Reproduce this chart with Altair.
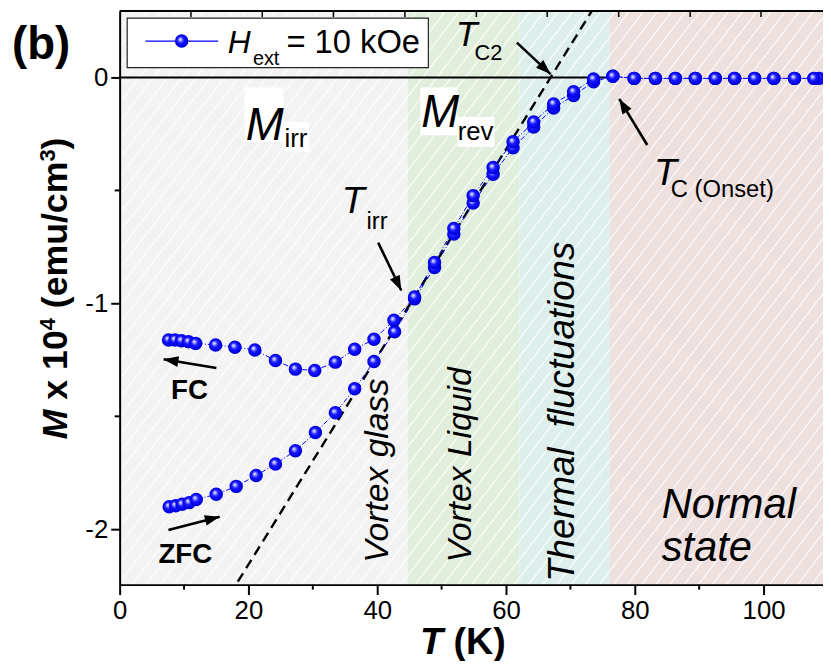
import math
import altair as alt
import pandas as pd

# ---------------- data ----------------
T_fc = [7.6, 8.6, 9.6, 10.7, 11.8, 14.9, 17.9, 21.0, 24.2, 27.3, 30.3, 33.5, 36.5, 39.5, 42.6,
        45.8, 48.9, 51.9, 54.9, 58.0, 61.1, 64.3, 67.4, 70.5, 73.6, 76.6, 79.9, 83.2, 86.3,
        89.4, 92.5, 95.5, 98.6, 101.6, 104.8, 107.8]
M_fc = [-1.162, -1.162, -1.165, -1.170, -1.177, -1.184, -1.194, -1.206, -1.253, -1.291, -1.297,
        -1.260, -1.203, -1.159, -1.075, -0.972, -0.819, -0.669, -0.523, -0.399, -0.285, -0.197,
        -0.117, -0.063, -0.007, 0.005, -0.004, -0.004, -0.004, -0.004, -0.004, -0.004, -0.004,
        -0.004, -0.004, -0.004]
T_zfc = [7.7, 8.7, 9.7, 10.8, 11.9, 15.0, 18.1, 21.2, 24.2, 27.3, 30.4, 33.5, 36.5, 39.5, 42.7,
         45.8, 48.9, 51.9, 54.9, 58.0, 61.1, 64.3, 67.4, 70.5, 73.6, 76.6, 79.9, 83.2, 86.3,
         89.4, 92.5, 95.5, 98.6, 101.6, 104.8, 108.6]
M_zfc = [-1.900, -1.896, -1.889, -1.882, -1.868, -1.845, -1.810, -1.762, -1.711, -1.652, -1.572,
         -1.484, -1.378, -1.257, -1.126, -0.980, -0.841, -0.693, -0.556, -0.428, -0.311, -0.219,
         -0.135, -0.080, -0.019, 0.005, -0.004, -0.004, -0.004, -0.004, -0.004, -0.004, -0.004,
         -0.004, -0.004, -0.004]

# regions (K)
band_lo = [0.0, 44.77, 62.1, 76.15]
band_hi = [44.77, 62.1, 76.15, 109.23]
band_col = ["#f3f3f3", "#e1eedc", "#dcefed", "#ede0df"]

# T_C2 extrapolation line (dashed) and zero line
tc2_T = [18.35, 73.32]
tc2_M = [-2.232, 0.294]
zero_T = [0.0, 76.0]
zero_M = [0.0, 0.0]

# arrows: tail (T1,M1) -> tip (T2,M2)
arr_T1 = [61.69, 40.15, 81.94, 15.02, 7.58]
arr_M1 = [0.154, -0.731, -0.299, -1.286, -2.003]
arr_T2 = [66.92, 43.74, 77.58, 6.82, 15.54]
arr_M2 = [0.015, -0.943, -0.095, -1.247, -1.944]

# axis ticks
x_major = [0, 20, 40, 60, 80, 100]
x_minor = [10, 30, 50, 70, 90]
y_major = [-2, -1, 0]
y_minor = [-1.5, -0.5]
top_ticks = [11.07, 22.15, 33.2, 44.3, 55.4, 66.4, 77.5, 88.6, 99.6]

# white boxes behind the M_irr / M_rev labels
wb_T1 = [19.43, 25.43, 46.71, 52.46]
wb_T2 = [25.43, 29.43, 52.46, 58.2]
wb_M1 = [-0.044, -0.197, -0.044, -0.175]
wb_M2 = [-0.285, -0.329, -0.256, -0.307]

# annotation texts
it_text = ["M", "M", "T", "T", "T", "H", "Normal", "state"]
it_T = [19.58, 46.85, 34.5, 52.2, 83.0, 16.8, 84.2, 84.2]
it_M = [-0.276, -0.219, -0.601, 0.140, -0.476, 0.110, -1.952, -2.140]
it_size = [46, 46, 38, 36, 38, 32, 42, 42]

rg_text = ["irr", "rev", "irr", "C2", "C (Onset)", "ext", "= 10 kOe"]
rg_T = [25.6, 52.5, 38.35, 55.1, 85.6, 20.7, 25.9]
rg_M = [-0.307, -0.276, -0.671, 0.079, -0.530, 0.057, 0.110]
rg_size = [26, 26, 24, 22, 24, 20, 33]

bd_text = ["FC", "ZFC"]
bd_T = [10.85, 10.2]
bd_M = [-1.425, -2.149]
bd_size = [28, 28]

rot_text = ["Vortex glass", "Vortex Liquid", "Thermal\u00a0\u00a0fluctuations"]
rot_T = [40.2, 53.1, 68.8]
rot_M = [-1.741, -1.715, -1.48]
rot_size = [34, 34, 37]

# legend
leg_box_T = [1.17, 47.94]
leg_box_M = [0.044, 0.263]
leg_line_T = [4.0, 15.3]
leg_line_M = [0.161, 0.161]
leg_pt_T = [9.63]
leg_pt_M = [0.161]

# ---------------- layout ----------------
FONT = "Liberation Sans"
BLUE = "#0000ff"
PXK, PXM = 6.5, 228.0
X_MAX, Y_MIN, Y_MAX = 109.23, -2.245, 0.294
W, H = 710, 579
L0, T0 = 120.7, 8.0   # page position of plot origin

xsc = alt.Scale(domain=[0, X_MAX], nice=False, zero=False)
ysc = alt.Scale(domain=[Y_MIN, Y_MAX], nice=False, zero=False)

x_axis = alt.Axis(values=x_major, format="d", tickSize=10, tickWidth=2, domainWidth=2,
                  domainColor="black", tickColor="black", labelFont=FONT, labelFontSize=26,
                  labelColor="black", labelPadding=3, grid=False, title=None, labelFlush=False,
                  zindex=1)
y_axis = alt.Axis(values=y_major, tickSize=9, tickWidth=2, domainWidth=2, domainColor="black",
                  tickColor="black", labelFont=FONT, labelFontSize=26, labelColor="black",
                  labelPadding=3, grid=False, title=None, labelFlush=False, zindex=1,
                  labelExpr="replace(datum.label, '\u2212', '-')")


def X(f="x"):
    return alt.X(f"{f}:Q", scale=xsc, axis=x_axis)


def Y(f="y"):
    return alt.Y(f"{f}:Q", scale=ysc, axis=y_axis)


sphere = {
    "gradient": "radial",
    "x1": 0.38, "y1": 0.36, "r1": 0.0,
    "x2": 0.5, "y2": 0.5, "r2": 0.56,
    "stops": [
        {"offset": 0.0, "color": "#ffffff"},
        {"offset": 0.16, "color": "#b0b0ff"},
        {"offset": 0.42, "color": "#1a1aff"},
        {"offset": 0.8, "color": "#0000ea"},
        {"offset": 1.0, "color": "#00009a"},
    ],
}

layers = []

# background bands
bands = pd.DataFrame({"x": band_lo, "x2": band_hi, "c": band_col})
layers.append(alt.Chart(bands).mark_rect().encode(
    x=X(), x2="x2:Q", color=alt.Color("c:N", scale=None)))

# hatch texture
slope_px = 1.3
span_T = (H / slope_px) / PXK
step = 2.2
n_h = int((X_MAX + span_T) / step) + 2
h_start = [round(-span_T + i * step, 3) for i in range(n_h)]
hatch = pd.DataFrame({"x": h_start, "x2": [s + span_T for s in h_start],
                      "y": [Y_MIN] * n_h, "y2": [Y_MAX] * n_h})
layers.append(alt.Chart(hatch).mark_rule(color="white", strokeWidth=1.1, opacity=0.9, clip=True).encode(
    x=X(), x2="x2:Q", y=Y(), y2="y2:Q"))

# white label boxes
layers.append(alt.Chart(pd.DataFrame({"x": wb_T1, "x2": wb_T2, "y": wb_M1, "y2": wb_M2})).mark_rect(
    color="white").encode(x=X(), x2="x2:Q", y=Y(), y2="y2:Q"))

# zero line
layers.append(alt.Chart(pd.DataFrame({"x": zero_T, "y": zero_M})).mark_line(
    color="black", strokeWidth=2).encode(x=X(), y=Y()))

# dashed Tc2 line
layers.append(alt.Chart(pd.DataFrame({"x": tc2_T, "y": tc2_M})).mark_line(
    color="black", strokeWidth=2.4, strokeDash=[10, 6], clip=True).encode(x=X(), y=Y()))

# data lines
fc = pd.DataFrame({"x": T_fc, "y": M_fc})
zfc = pd.DataFrame({"x": T_zfc, "y": M_zfc})
for d in (fc, zfc):
    layers.append(alt.Chart(d).mark_line(color=BLUE, strokeWidth=1, strokeDash=[5, 2, 1, 2]).encode(
        x=X(), y=Y()))

# points
for d in (zfc, fc):
    layers.append(alt.Chart(d).mark_circle(size=185, fill=sphere, opacity=1).encode(x=X(), y=Y()))

# arrows
arr = pd.DataFrame({"x": arr_T1, "y": arr_M1, "x2": arr_T2, "y2": arr_M2})
arr["ang"] = [
    (math.degrees(math.atan2((b - a) * PXK, (d - c) * PXM)) + 360) % 360
    for a, b, c, d in zip(arr_T1, arr_T2, arr_M1, arr_M2)
]
layers.append(alt.Chart(arr).mark_rule(color="black", strokeWidth=2.6).encode(
    x=X(), x2="x2:Q", y=Y(), y2="y2:Q"))
layers.append(alt.Chart(arr).mark_point(shape="M0,0L-0.36,1L0.36,1Z", filled=True, color="black",
                                        size=900, opacity=1, strokeWidth=0).encode(
    x=X("x2"), y=Y("y2"), angle=alt.Angle("ang:Q", scale=None)))

# minor ticks + top frame
layers.append(alt.Chart(pd.DataFrame({"x": x_minor})).mark_rule(color="black", strokeWidth=2).encode(
    x=X(), y=alt.value(H), y2=alt.value(H + 5)))
layers.append(alt.Chart(pd.DataFrame({"y": y_minor})).mark_rule(color="black", strokeWidth=2).encode(
    y=Y(), x=alt.value(-5), x2=alt.value(0)))
layers.append(alt.Chart(pd.DataFrame({"y": [Y_MAX]})).mark_rule(color="black", strokeWidth=2).encode(
    y=Y(), x=alt.value(0), x2=alt.value(W)))
layers.append(alt.Chart(pd.DataFrame({"x": top_ticks})).mark_rule(color="black", strokeWidth=1.5).encode(
    x=X(), y=alt.value(0), y2=alt.value(6)))

# legend box
layers.append(alt.Chart(pd.DataFrame({"x": [leg_box_T[0]], "x2": [leg_box_T[1]],
                                      "y": [leg_box_M[0]], "y2": [leg_box_M[1]]})).mark_rect(
    fill="white", stroke="#222222", strokeWidth=1.2).encode(x=X(), x2="x2:Q", y=Y(), y2="y2:Q"))
layers.append(alt.Chart(pd.DataFrame({"x": leg_line_T, "y": leg_line_M})).mark_line(
    color=BLUE, strokeWidth=1.2).encode(x=X(), y=Y()))
layers.append(alt.Chart(pd.DataFrame({"x": leg_pt_T, "y": leg_pt_M})).mark_circle(
    size=185, fill=sphere, opacity=1).encode(x=X(), y=Y()))


def text_layer(texts, tx, ty, sizes, **mark):
    df = pd.DataFrame({"t": texts, "x": tx, "y": ty, "s": sizes})
    return alt.Chart(df).mark_text(font=FONT, color="black", **mark).encode(
        x=X(), y=Y(), text="t:N", size=alt.Size("s:Q", scale=None))


layers.append(text_layer(it_text, it_T, it_M, it_size, fontStyle="italic", align="left",
                         baseline="alphabetic"))
layers.append(text_layer(rg_text, rg_T, rg_M, rg_size, align="left", baseline="alphabetic"))
layers.append(text_layer(bd_text, bd_T, bd_M, bd_size, fontWeight="bold", align="center",
                         baseline="alphabetic"))
layers.append(text_layer(rot_text, rot_T, rot_M, rot_size, fontStyle="italic", align="center",
                         baseline="middle", angle=270))


# pixel-positioned titles (page coordinates converted to plot coordinates)
def ptext(txt, px, py, size, **mark):
    return alt.Chart(pd.DataFrame({"t": [txt]})).mark_text(
        font=FONT, color="black", fontSize=size, **mark).encode(
        x=alt.value(px - L0), y=alt.value(py - T0), text="t:N")


layers.append(ptext("(b)", 12, 56, 46, fontWeight="bold", align="left", baseline="alphabetic"))

# x title: T (K)
layers.append(ptext("T", 424, 657, 38, fontWeight="bold", fontStyle="italic", align="left",
                    baseline="alphabetic"))
layers.append(ptext("(K)", 424 + 0.889 * 38, 657, 38, fontWeight="bold", align="left",
                    baseline="alphabetic"))

# y title: M x 10^4 (emu/cm^3), rotated; (text, size, shift, style, advance_em incl. gap)
fs, sup = 36, 22
pieces = [("M", fs, 0, "italic", 0.833 + 0.278), ("x 10", fs, 0, "normal", 1.946),
          ("4", sup, 13, "normal", 0.556 + 0.278 * fs / sup), ("(emu/cm", fs, 0, "normal", 4.112),
          ("3", sup, 13, "normal", 0.556), (")", fs, 0, "normal", 0.333)]
total = sum(p[4] * p[1] for p in pieces)
ypos = 288 + total / 2
for txt, size, shift, style, adv in pieces:
    layers.append(ptext(txt, 68 - shift, ypos, size, fontWeight="bold", fontStyle=style,
                        align="left", baseline="alphabetic", angle=270))
    ypos -= adv * size

chart = alt.layer(*layers).properties(
    width=W, height=H,
    autosize=alt.AutoSizeParams(type="none"),
    padding={"left": L0 - 8, "top": 0, "right": 0, "bottom": 74},
).configure_view(stroke=None)

chart.save("out.html", embed_options={"renderer": "svg", "actions": False})
